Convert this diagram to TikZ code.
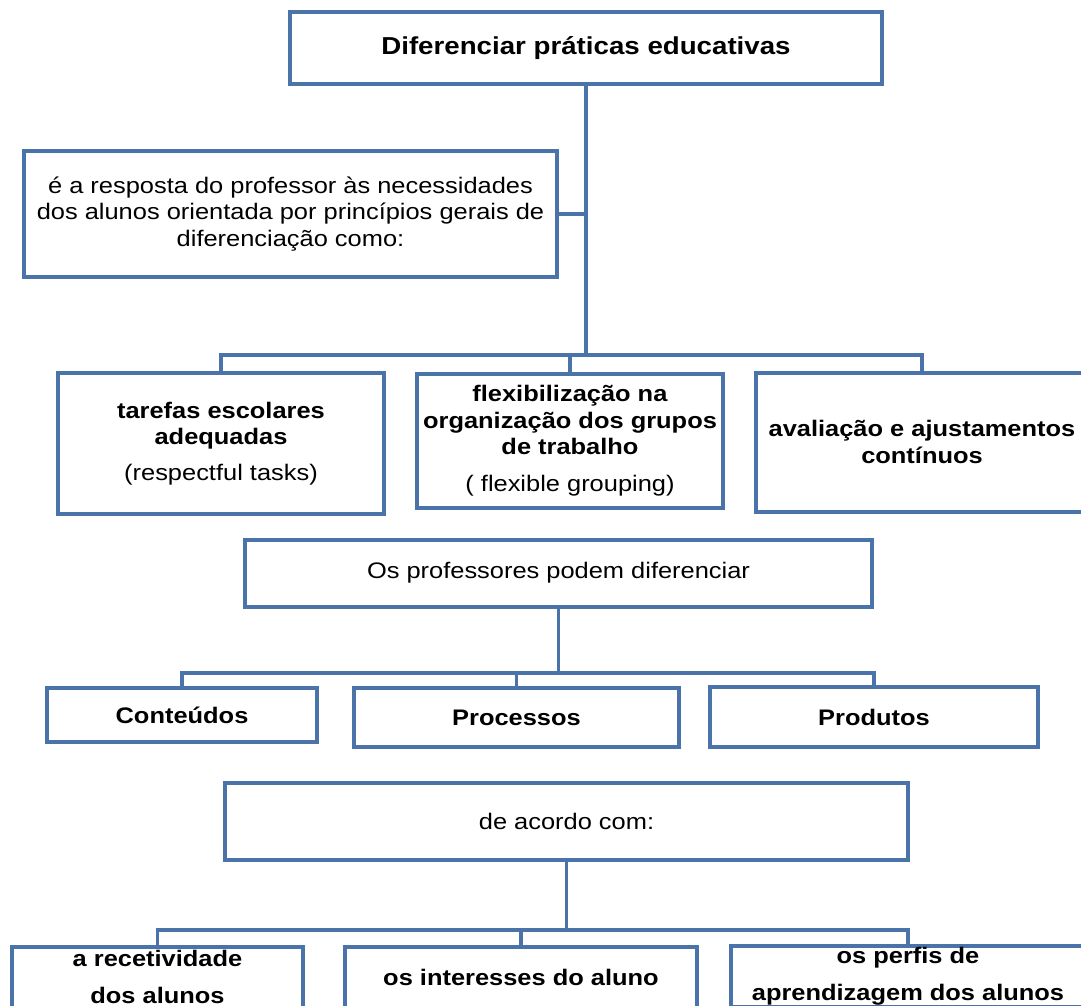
\documentclass[tikz,border=0pt]{standalone}
\usepackage{fontspec}
\setmainfont[FakeStretch=1.13]{Liberation Sans}

\definecolor{boxblue}{RGB}{74,115,170}

\tikzset{
    box/.style={draw=boxblue, line width=4pt, inner sep=0pt, align=center,
        font=\fontsize{22.5}{26.5}\selectfont},
    link/.style={draw=boxblue, line width=3.5pt}
}

\begin{document}
\begin{tikzpicture}[x=1pt, y=-1pt]

    % Page frame
    \useasboundingbox (0,0) rectangle (1081,1006);
    \clip (0,0) rectangle (1081,1006);

    % Top level
    \node[box, minimum width=592, minimum height=72,
        font=\fontsize{24.5}{28}\selectfont\bfseries] (top) at (586,48)
        {Diferenciar práticas educativas};
    \node[box, minimum width=533, minimum height=126] (resp) at (290.5,214)
        {é a resposta do professor às necessidades\\
         dos alunos orientada por princípios gerais de\\
         diferenciação como:};

    % Principles
    \node[box, minimum width=326, minimum height=141] (tarefas) at (221,443.5)
        {\textbf{tarefas escolares}\\ \textbf{adequadas}\\[9pt] (respectful tasks)};
    \node[box, minimum width=306, minimum height=134] (flexi) at (570,440.5)
        {\textbf{flexibilização na}\\ \textbf{organização dos grupos}\\
         \textbf{de trabalho}\\[10pt] ( flexible grouping)};
    \node[box, minimum width=332, minimum height=139] (aval) at (922,442)
        {\textbf{avaliação e ajustamentos}\\ \textbf{contínuos}};

    % What teachers can differentiate
    \node[box, minimum width=627, minimum height=67] (profs) at (558.5,573)
        {Os professores podem diferenciar};
    \node[box, minimum width=270, minimum height=54] (cont) at (182,715)
        {\textbf{Conteúdos}};
    \node[box, minimum width=325, minimum height=59] (proc) at (516.5,717.5)
        {\textbf{Processos}};
    \node[box, minimum width=328, minimum height=60] (prod) at (874,717)
        {\textbf{Produtos}};

    % According to
    \node[box, minimum width=683, minimum height=77] (acordo) at (566.5,821.5)
        {de acordo com:};
    \node[box, minimum width=291, minimum height=61,
        font=\fontsize{22.5}{37}\selectfont\bfseries] (recet) at (157.5,977)
        {a recetividade\\dos alunos};
    \node[box, minimum width=352, minimum height=61,
        font=\fontsize{22.5}{37}\selectfont\bfseries] (inter) at (521,977)
        {os interesses do aluno};
    \node[box, minimum width=354, minimum height=61,
        font=\fontsize{22.5}{37}\selectfont\bfseries] (perfis) at (908,976)
        {os perfis de\\aprendizagem dos alunos};

    % Bus lines
    \coordinate (busA) at (585,355);
    \coordinate (busB) at (558,673);
    \coordinate (busC) at (567,930);

    % First tree
    \draw[link] (top.south) -- (top.south |- busA);
    \draw[link] (resp.east) -- (resp.east -| top.south);
    \draw[link] (tarefas.north) -- (tarefas.north |- busA)
        -- (aval.north |- busA) -- (aval.north);
    \draw[link] (flexi.north) -- (flexi.north |- busA);

    % Second tree
    \draw[link] (profs.south) -- (profs.south |- busB);
    \draw[link] (cont.north) -- (cont.north |- busB)
        -- (prod.north |- busB) -- (prod.north);
    \draw[link] (proc.north) -- (proc.north |- busB);

    % Third tree
    \draw[link] (acordo.south) -- (acordo.south |- busC);
    \draw[link] (recet.north) -- (recet.north |- busC)
        -- (perfis.north |- busC) -- (perfis.north);
    \draw[link] (inter.north) -- (inter.north |- busC);

\end{tikzpicture}
\end{document}
